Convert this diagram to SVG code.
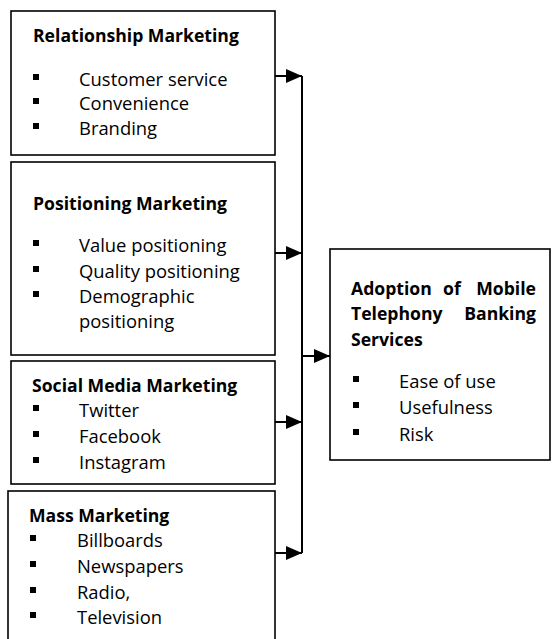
<svg xmlns="http://www.w3.org/2000/svg" width="552" height="639" viewBox="0 0 552 639">
  <style>
    .box { fill: #ffffff; stroke: #000000; stroke-width: 1.6; }
    .head { font-family: "Open Sans", "Liberation Sans", sans-serif; font-size: 17.6px; font-weight: bold; fill: #000000; }
    .item { font-family: "Open Sans", "Liberation Sans", sans-serif; font-size: 18.4px; fill: #000000; }
    .dot { fill: #000000; }
    .wire { fill: none; stroke: #000000; stroke-width: 2; }
  </style>
  <defs>
    <marker id="arrow" markerWidth="16" markerHeight="14" refX="16" refY="7" orient="auto" markerUnits="userSpaceOnUse">
      <path d="M0,0 L16,7 L0,14 Z" fill="#000000"/>
    </marker>
  </defs>
  <rect width="552" height="639" fill="#ffffff"/>

  <!-- Relationship Marketing -->
  <g id="relationship">
    <rect class="box" x="11" y="11" width="264" height="144"/>
    <text class="head" x="33" y="42">Relationship Marketing</text>
    <rect class="dot" x="33" y="74" width="6" height="6"/>
    <rect class="dot" x="33" y="98" width="6" height="6"/>
    <rect class="dot" x="33" y="123" width="6" height="6"/>
    <text class="item" x="79" y="86">Customer service</text>
    <text class="item" x="79" y="110">Convenience</text>
    <text class="item" x="79" y="135">Branding</text>
  </g>

  <!-- Positioning Marketing -->
  <g id="positioning">
    <rect class="box" x="11" y="162" width="264" height="193"/>
    <text class="head" x="33" y="210">Positioning Marketing</text>
    <rect class="dot" x="33" y="240" width="6" height="6"/>
    <rect class="dot" x="33" y="266" width="6" height="6"/>
    <rect class="dot" x="33" y="291" width="6" height="6"/>
    <text class="item" x="79" y="252">Value positioning</text>
    <text class="item" x="79" y="278">Quality positioning</text>
    <text class="item" x="79" y="303">Demographic</text>
    <text class="item" x="79" y="328">positioning</text>
  </g>

  <!-- Social Media Marketing -->
  <g id="social">
    <rect class="box" x="11" y="361" width="264" height="123"/>
    <text class="head" x="32" y="392">Social Media Marketing</text>
    <rect class="dot" x="33" y="405" width="6" height="6"/>
    <rect class="dot" x="33" y="431" width="6" height="6"/>
    <rect class="dot" x="33" y="457" width="6" height="6"/>
    <text class="item" x="79" y="417">Twitter</text>
    <text class="item" x="79" y="443">Facebook</text>
    <text class="item" x="79" y="469">Instagram</text>
  </g>

  <!-- Mass Marketing -->
  <g id="mass">
    <rect class="box" x="8" y="491" width="267" height="160"/>
    <text class="head" x="29" y="522">Mass Marketing</text>
    <rect class="dot" x="30" y="535" width="6" height="6"/>
    <rect class="dot" x="30" y="561" width="6" height="6"/>
    <rect class="dot" x="30" y="587" width="6" height="6"/>
    <rect class="dot" x="30" y="612" width="6" height="6"/>
    <text class="item" x="77" y="547">Billboards</text>
    <text class="item" x="77" y="573">Newspapers</text>
    <text class="item" x="77" y="599">Radio,</text>
    <text class="item" x="77" y="624">Television</text>
  </g>

  <!-- Adoption of Mobile Telephony Banking Services (justified heading) -->
  <g id="adoption">
    <rect class="box" x="330" y="249" width="220" height="211"/>
    <text class="head" x="351" y="295">Adoption</text>
    <text class="head" x="443" y="295">of</text>
    <text class="head" x="536" y="295" text-anchor="end">Mobile</text>
    <text class="head" x="351" y="320">Telephony</text>
    <text class="head" x="536" y="320" text-anchor="end">Banking</text>
    <text class="head" x="351" y="346">Services</text>
    <rect class="dot" x="353" y="376" width="6" height="6"/>
    <rect class="dot" x="353" y="402" width="6" height="6"/>
    <rect class="dot" x="353" y="429" width="6" height="6"/>
    <text class="item" x="399" y="388">Ease of use</text>
    <text class="item" x="399" y="414">Usefulness</text>
    <text class="item" x="399" y="441">Risk</text>
  </g>

  <!-- Connectors -->
  <g id="connectors">
    <line class="wire" x1="302" y1="76" x2="302" y2="553"/>
    <line class="wire" x1="275" y1="76" x2="302" y2="76" marker-end="url(#arrow)"/>
    <line class="wire" x1="275" y1="253" x2="302" y2="253" marker-end="url(#arrow)"/>
    <line class="wire" x1="275" y1="422" x2="302" y2="422" marker-end="url(#arrow)"/>
    <line class="wire" x1="275" y1="553" x2="302" y2="553" marker-end="url(#arrow)"/>
    <line class="wire" x1="302" y1="356" x2="330" y2="356" marker-end="url(#arrow)"/>
  </g>
</svg>
